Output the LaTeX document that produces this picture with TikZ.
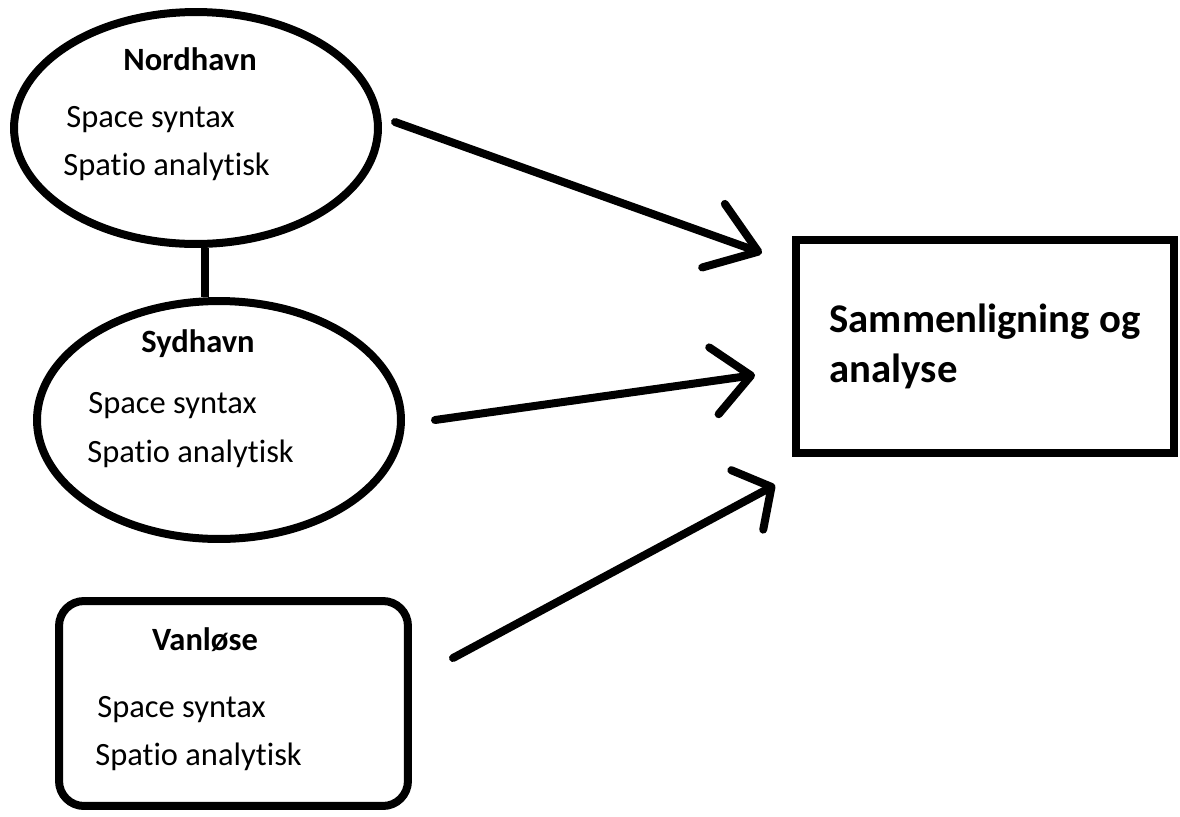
\documentclass[tikz,border=0pt]{standalone}
\usepackage{fontspec}
\setmainfont{Carlito}[Ligatures=NoCommon]
\usetikzlibrary{shapes.geometric, arrows.meta}

\begin{document}
\begin{tikzpicture}[
      x=0.02cm, y=-0.02cm,
      omraade/.style = {
        ellipse, draw=black, line width=0.16cm,
        minimum width=7.28cm, inner sep=0pt
      },
      boks/.style = {
        rectangle, draw=black, line width=0.16cm, inner sep=0pt
      },
      titel/.style  = {anchor=base, inner sep=0pt, font=\fontsize{18.5}{22}\selectfont\bfseries},
      metode/.style = {anchor=base west, inner sep=0pt, font=\fontsize{18.5}{22}\selectfont},
      pil/.style = {
        line width=0.16cm, line cap=round,
        -{Straight Barb[length=#1, width=1.35cm, round]}
      },
      pil/.default = 0.9cm
    ]

    \useasboundingbox (0,0) rectangle (1180,816);

    % omraaderne
    \node[omraade, minimum height=4.64cm] (Nordhavn) at (196,128) {};
    \node[omraade, minimum height=4.76cm] (Sydhavn)  at (219,420) {};
    \node[boks, rounded corners=0.5cm, minimum width=6.98cm, minimum height=4.1cm]
      (Vanloese) at (233.5,703.5) {};

    \node[boks, minimum width=7.56cm, minimum height=4.26cm, align=left,
          font=\fontsize{23.2}{28.5}\selectfont\bfseries]
      (Analyse) at (985,346.5) {Sammenligning og\\analyse};

    \node[titel]  (NordhavnTitel)  at (190,70)  {Nordhavn};
    \node[metode] (NordhavnSyntax) at (66,127)  {Space syntax};
    \node[metode] (NordhavnSpatio) at (63,175)  {Spatio analytisk};

    \node[titel]  (SydhavnTitel)  at (198,352) {Sydhavn};
    \node[metode] (SydhavnSyntax) at (88,413)  {Space syntax};
    \node[metode] (SydhavnSpatio) at (87,462)  {Spatio analytisk};

    \node[titel]  (VanloeseTitel)  at (205,650) {Vanløse};
    \node[metode] (VanloeseSyntax) at (97,717)  {Space syntax};
    \node[metode] (VanloeseSpatio) at (95,765)  {Spatio analytisk};

    % forbindelse
    \draw[line width=0.16cm] ([xshift=0.18cm]Nordhavn.south) -- ([xshift=0.18cm]Nordhavn.south |- Sydhavn.north);

    % pile
    \coordinate (fraNord)  at (395,122);
    \coordinate (tilNord)  at (762,253);
    \coordinate (fraSyd)   at (435,420);
    \coordinate (tilSyd)   at (755,375);
    \coordinate (fraVanl)  at (453,658);
    \coordinate (tilVanl)  at (775,485);

    \draw[pil=0.95cm] (fraNord) -- (tilNord);
    \draw[pil=0.75cm] (fraSyd)  -- (tilSyd);
    \draw[pil=0.55cm] (fraVanl) -- (tilVanl);

  \end{tikzpicture}
\end{document}
